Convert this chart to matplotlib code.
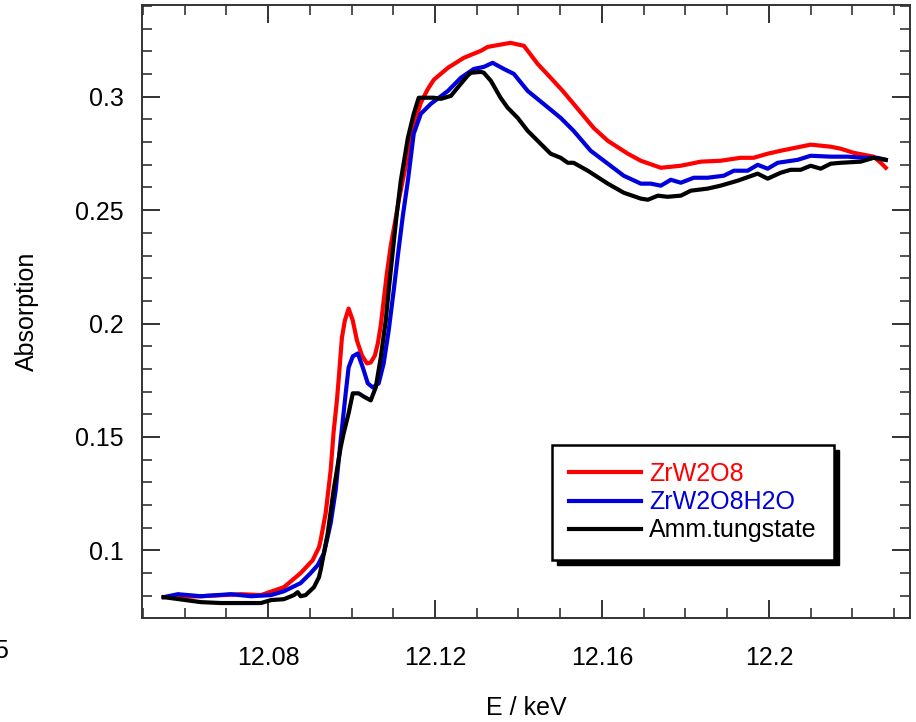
import matplotlib
matplotlib.use("Agg")
import matplotlib.pyplot as plt
from matplotlib.patches import Rectangle
from matplotlib.ticker import MultipleLocator
from matplotlib.transforms import IdentityTransform

plt.rcParams['font.family'] = ['Liberation Sans', 'DejaVu Sans']

# W L3-edge XANES spectra (energy in keV, absorption)
zrw2o8_e = [12.0550, 12.0639, 12.0735, 12.0783, 12.0838, 12.0878, 12.0907, 12.0922,
            12.0926, 12.0938, 12.0950, 12.0957, 12.0965, 12.0969, 12.0977, 12.0984,
            12.0993, 12.1003, 12.1013, 12.1025, 12.1037, 12.1046, 12.1056, 12.1063,
            12.1070, 12.1077, 12.1084, 12.1094, 12.1104, 12.1113, 12.1125, 12.1137,
            12.1149, 12.1166, 12.1183, 12.1197, 12.1231, 12.1269, 12.1310, 12.1326,
            12.1365, 12.1381, 12.1413, 12.1446, 12.1477, 12.1506, 12.1532, 12.1580,
            12.1614, 12.1662, 12.1693, 12.1741, 12.1789, 12.1837, 12.1884, 12.1932,
            12.1963, 12.1997, 12.2028, 12.2100, 12.2148, 12.2172, 12.2203, 12.2251,
            12.2268, 12.2280]
zrw2o8_a = [0.0793, 0.0797, 0.0806, 0.0802, 0.0837, 0.0899, 0.0956, 0.1013,
            0.1044, 0.1163, 0.1352, 0.1520, 0.1661, 0.1749, 0.1938, 0.2013,
            0.2066, 0.2013, 0.1925, 0.1859, 0.1824, 0.1828, 0.1859, 0.1912,
            0.1991, 0.2101, 0.2211, 0.2344, 0.2445, 0.2542, 0.2652, 0.2762,
            0.2872, 0.2974, 0.3035, 0.3075, 0.3128, 0.3172, 0.3203, 0.3220,
            0.3233, 0.3238, 0.3225, 0.3145, 0.3084, 0.3026, 0.2969, 0.2863,
            0.2806, 0.2749, 0.2718, 0.2687, 0.2696, 0.2714, 0.2718, 0.2731,
            0.2731, 0.2749, 0.2762, 0.2789, 0.2780, 0.2771, 0.2753, 0.2736,
            0.2709, 0.2687]

hydrate_e = [12.0550, 12.0584, 12.0639, 12.0711, 12.0759, 12.0807, 12.0838, 12.0878,
             12.0902, 12.0919, 12.0934, 12.0950, 12.0962, 12.0974, 12.0986, 12.0993,
             12.1003, 12.1015, 12.1027, 12.1039, 12.1051, 12.1065, 12.1077, 12.1089,
             12.1101, 12.1111, 12.1123, 12.1135, 12.1149, 12.1166, 12.1190, 12.1231,
             12.1262, 12.1293, 12.1317, 12.1338, 12.1365, 12.1389, 12.1422, 12.1460,
             12.1501, 12.1532, 12.1573, 12.1614, 12.1652, 12.1693, 12.1717, 12.1741,
             12.1765, 12.1789, 12.1820, 12.1853, 12.1892, 12.1916, 12.1949, 12.1973,
             12.1997, 12.2021, 12.2069, 12.2100, 12.2148, 12.2189, 12.2227, 12.2260,
             12.2280]
hydrate_a = [0.0793, 0.0806, 0.0797, 0.0806, 0.0797, 0.0802, 0.0819, 0.0855,
             0.0899, 0.0934, 0.0987, 0.1119, 0.1264, 0.1485, 0.1692, 0.1806,
             0.1855, 0.1868, 0.1806, 0.1736, 0.1718, 0.1736, 0.1824, 0.1969,
             0.2145, 0.2300, 0.2476, 0.2630, 0.2837, 0.2925, 0.2969, 0.3026,
             0.3084, 0.3123, 0.3132, 0.3150, 0.3123, 0.3101, 0.3026, 0.2969,
             0.2907, 0.2850, 0.2762, 0.2705, 0.2652, 0.2617, 0.2617, 0.2608,
             0.2634, 0.2621, 0.2643, 0.2643, 0.2652, 0.2674, 0.2674, 0.2700,
             0.2683, 0.2709, 0.2722, 0.2740, 0.2736, 0.2736, 0.2731, 0.2731,
             0.2722]

tungstate_e = [12.0550, 12.0639, 12.0687, 12.0783, 12.0807, 12.0838, 12.0862, 12.0871,
               12.0878, 12.0890, 12.0910, 12.0922, 12.0926, 12.0943, 12.0957, 12.0974,
               12.0981, 12.0993, 12.1003, 12.1017, 12.1029, 12.1046, 12.1058, 12.1070,
               12.1082, 12.1089, 12.1099, 12.1108, 12.1118, 12.1135, 12.1149, 12.1161,
               12.1197, 12.1214, 12.1238, 12.1254, 12.1278, 12.1286, 12.1310, 12.1317,
               12.1334, 12.1357, 12.1374, 12.1398, 12.1422, 12.1446, 12.1477, 12.1501,
               12.1518, 12.1532, 12.1566, 12.1614, 12.1652, 12.1693, 12.1710, 12.1734,
               12.1757, 12.1789, 12.1813, 12.1853, 12.1884, 12.1925, 12.1973, 12.1997,
               12.2028, 12.2052, 12.2076, 12.2100, 12.2124, 12.2148, 12.2172, 12.2220,
               12.2251, 12.2280]
tungstate_a = [0.0793, 0.0771, 0.0767, 0.0767, 0.0780, 0.0784, 0.0802, 0.0815,
               0.0797, 0.0802, 0.0837, 0.0881, 0.0912, 0.1075, 0.1264, 0.1454,
               0.1515, 0.1604, 0.1692, 0.1692, 0.1678, 0.1661, 0.1718, 0.1850,
               0.2013, 0.2145, 0.2322, 0.2476, 0.2630, 0.2819, 0.2925, 0.2996,
               0.2996, 0.2991, 0.3004, 0.3040, 0.3093, 0.3106, 0.3110, 0.3106,
               0.3070, 0.2996, 0.2952, 0.2907, 0.2850, 0.2806, 0.2749, 0.2731,
               0.2709, 0.2709, 0.2674, 0.2617, 0.2577, 0.2551, 0.2546, 0.2564,
               0.2559, 0.2564, 0.2586, 0.2595, 0.2608, 0.2630, 0.2661, 0.2639,
               0.2665, 0.2678, 0.2678, 0.2696, 0.2683, 0.2705, 0.2709, 0.2714,
               0.2731, 0.2722]

series = [
    ("ZrW2O8", zrw2o8_e, zrw2o8_a, "#ff0000"),
    ("ZrW2O8H2O", hydrate_e, hydrate_a, "#0000dd"),
    ("Amm.tungstate", tungstate_e, tungstate_a, "#000000"),
]

x_major = [12.08, 12.12, 12.16, 12.2]
x_major_labels = ["12.08", "12.12", "12.16", "12.2"]
y_major = [0.1, 0.15, 0.2, 0.25, 0.3]
y_major_labels = ["0.1", "0.15", "0.2", "0.25", "0.3"]

fig = plt.figure(figsize=(9.16, 7.22), dpi=100)
ax = fig.add_axes([142 / 916, 1 - 618 / 722, 768 / 916, 613 / 722])

for name, e, a, col in series:
    ax.plot(e, a, color=col, lw=3.0, label=name, solid_joinstyle='round')

ax.set_xlim(12.0498, 12.2338)
ax.set_ylim(0.0701, 0.3405)

ax.set_xticks(x_major)
ax.set_xticklabels(x_major_labels)
ax.set_yticks(y_major)
ax.set_yticklabels(y_major_labels)
ax.xaxis.set_minor_locator(MultipleLocator(0.01))
ax.yaxis.set_minor_locator(MultipleLocator(0.01))

ax.tick_params(which='both', direction='in', top=True, right=True, color='#222222')
ax.tick_params(which='major', length=13, width=1.3, labelsize=18)
ax.tick_params(which='minor', length=7, width=1.1)
ax.tick_params(axis='x', which='major', pad=20)
ax.tick_params(axis='y', which='major', pad=13)
for sp in ax.spines.values():
    sp.set_linewidth(1.4)
    sp.set_color('#333333')

ax.set_xlabel("E / keV", fontsize=18, labelpad=19)
ax.set_ylabel("Absorption", fontsize=18, labelpad=26)

leg = ax.legend(loc='upper left', bbox_to_anchor=((552 - 142) / 768, (618 - 445) / 613),
                borderaxespad=0, fontsize=18, frameon=True, fancybox=False,
                edgecolor='black', framealpha=1, handlelength=2.9, handletextpad=0.3,
                labelspacing=0.17, borderpad=0.68, labelcolor='linecolor')
leg.get_frame().set_linewidth(1.8)

fig.text(8 / 916, 1 - 651 / 722, "5", fontsize=18, ha='right', va='center')

# solid drop shadow behind the legend box
fig.canvas.draw()
bb = leg.get_window_extent()
shadow = Rectangle((bb.x0 + 5, bb.y0 - 5), bb.width, bb.height, transform=IdentityTransform(),
                   facecolor='black', edgecolor='black', zorder=leg.get_zorder() - 0.5)
ax.add_artist(shadow)

fig.savefig("out.png", dpi=100)
